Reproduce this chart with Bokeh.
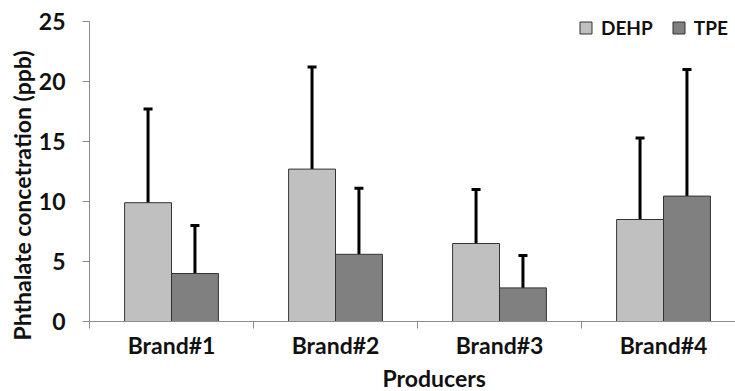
from bokeh.plotting import figure
from bokeh.models import (ColumnDataSource, LinearAxis, FixedTicker, Range1d,
                          Whisker, TeeHead, Legend, LegendItem, Title)
from bokeh.embed import file_html
from bokeh.resources import INLINE

brands = ["Brand#1", "Brand#2", "Brand#3", "Brand#4"]
dehp = [9.9, 12.7, 6.5, 8.5]
dehp_sd = [7.8, 8.5, 4.5, 6.8]
tpe = [4.0, 5.6, 2.8, 10.45]
tpe_sd = [4.0, 5.5, 2.7, 10.55]
y_ticks = [0, 5, 10, 15, 20, 25]

FONT = "Lato"
bw = 0.286
centers = [i + 0.5 for i in range(len(brands))]

src_d = ColumnDataSource(dict(x=[c - bw / 2 for c in centers], top=dehp,
                              upper=[a + b for a, b in zip(dehp, dehp_sd)]))
src_t = ColumnDataSource(dict(x=[c + bw / 2 for c in centers], top=tpe,
                              upper=[a + b for a, b in zip(tpe, tpe_sd)]))

FW, FH = 646, 321
LEFT = 89
p = figure(frame_width=FW, frame_height=FH, output_backend="svg",
           toolbar_location=None,
           x_range=Range1d(0, FW / 164), y_range=Range1d(0, 25 + 21 / 12),
           x_axis_location=None, y_axis_location=None,
           min_border_left=LEFT, min_border_right=0, min_border_top=0,
           min_border_bottom=0)
p.outline_line_color = None
p.grid.visible = False
p.background_fill_color = "white"

# y axis
ya = LinearAxis(ticker=FixedTicker(ticks=y_ticks), bounds=(0, 25))
ya.axis_line_color = "#8c8c8c"
ya.major_tick_line_color = "#8c8c8c"
ya.major_tick_out = 7
ya.major_tick_in = 0
ya.minor_tick_line_color = None
ya.major_label_standoff = 17
ya.major_label_text_font = FONT
ya.major_label_text_font_style = "bold"
ya.major_label_text_font_size = "23px"
ya.major_label_text_color = "#111111"
p.add_layout(ya, "left")

yt = Title(text="Phthalate concetration (ppb)", align="left", offset=-19,
           text_font=FONT, text_font_style="bold", text_font_size="23px",
           text_color="#111111", standoff=0)
p.add_layout(yt, "left")

# x axis: ticks at category boundaries (no labels)
xa = LinearAxis(ticker=FixedTicker(ticks=[0, 1, 2, 3]),
                major_label_overrides={0: "", 1: "", 2: "", 3: ""})
xa.axis_line_color = "#8c8c8c"
xa.major_tick_line_color = "#8c8c8c"
xa.major_tick_out = 7
xa.major_tick_in = 0
xa.minor_tick_line_color = None
xa.major_label_text_font_size = "1px"
xa.major_label_text_alpha = 0
xa.major_label_standoff = 0
p.add_layout(xa, "below")

# x axis: category labels
xl = LinearAxis(ticker=FixedTicker(ticks=centers),
                major_label_overrides={c: b for c, b in zip(centers, brands)})
xl.axis_line_color = None
xl.major_tick_line_color = None
xl.major_tick_out = 0
xl.major_tick_in = 0
xl.minor_tick_line_color = None
xl.major_label_standoff = 2
xl.major_label_text_font = FONT
xl.major_label_text_font_style = "bold"
xl.major_label_text_font_size = "23px"
xl.major_label_text_color = "#111111"
p.add_layout(xl, "below")

xt = Title(text="Producers", align="left", offset=293, text_font=FONT,
           text_font_style="bold", text_font_size="23px", text_color="#111111",
           standoff=0)
p.add_layout(xt, "below")

rd = p.vbar(x="x", top="top", width=bw, source=src_d, fill_color="#c0c0c0",
            line_color="#333333", line_width=1)
rt = p.vbar(x="x", top="top", width=bw, source=src_t, fill_color="#808080",
            line_color="#333333", line_width=1)

for src in (src_d, src_t):
    w = Whisker(base="x", lower="top", upper="upper", source=src,
                line_width=3, line_color="black",
                upper_head=TeeHead(size=9, line_width=3, line_color="black"),
                lower_head=None)
    p.add_layout(w)

leg = Legend(items=[LegendItem(label="DEHP", renderers=[rd]),
                    LegendItem(label="TPE", renderers=[rt])],
             orientation="horizontal", location=(489, 282))
leg.border_line_color = None
leg.background_fill_alpha = 0
leg.label_text_font = FONT
leg.label_text_font_style = "bold"
leg.label_text_font_size = "19px"
leg.label_text_color = "#111111"
leg.glyph_width = 15
leg.glyph_height = 15
leg.spacing = 18
leg.label_standoff = 8
leg.margin = 0
leg.padding = 0
p.add_layout(leg)

open("out.html", "w").write(file_html(p, INLINE))
